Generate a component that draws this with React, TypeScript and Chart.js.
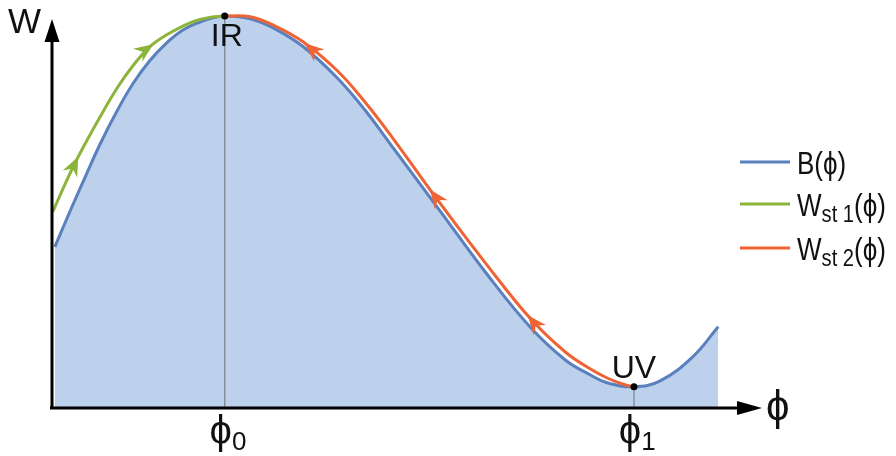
import { useEffect, useRef } from 'react';
import { Chart, registerables } from 'chart.js';

Chart.register(...registerables);

// Potential B(φ)
const phiB = [0.04, 0.25, 0.47, 0.68, 0.92, 1.14, 1.38, 1.62, 1.85, 2.09, 2.26, 2.44, 2.8, 3.15, 3.55, 4.03, 4.42, 4.82, 5.48, 6.12, 6.75, 7.25, 7.6, 7.84, 8.22, 8.59, 9.05, 9.41];
const wB = [4.03, 4.9, 5.78, 6.6, 7.43, 8.1, 8.68, 9.13, 9.45, 9.65, 9.75, 9.8, 9.73, 9.48, 9.03, 8.25, 7.45, 6.5, 4.93, 3.4, 2.03, 1.2, 0.83, 0.63, 0.53, 0.68, 1.28, 2.03];

// Flow W_st1(φ): runs up towards IR
const phiSt1 = [0.01, 0.18, 0.37, 0.68, 0.92, 1.14, 1.38, 1.62, 1.95, 2.19, 2.44];
const wSt1 = [4.9, 5.58, 6.28, 7.28, 8.0, 8.55, 9.03, 9.33, 9.63, 9.75, 9.8];

// Flow W_st2(φ): runs from UV back to IR
const phiSt2 = [2.44, 2.8, 3.15, 3.55, 4.03, 4.42, 4.82, 5.48, 6.12, 6.75, 7.25, 7.6, 7.84, 8.09, 8.22];
const wSt2 = [9.8, 9.78, 9.55, 9.15, 8.43, 7.65, 6.73, 5.12, 3.63, 2.25, 1.4, 0.98, 0.75, 0.58, 0.53];

// Fixed points
const fixedNames = ['IR', 'UV'];
const fixedSubs = ['0', '1'];
const fixedPhi = [2.44, 8.22];
const fixedW = [9.8, 0.53];

// Arrow tips along the flows (φ of the tip)
const arrowsSt1 = [0.37, 1.43];
const arrowsSt2 = [3.57, 5.34, 6.72];

const COLOR_B = '#5a80bd';
const COLOR_FILL = '#bdd0ec';
const COLOR_ST1 = '#8cb43b';
const COLOR_ST2 = '#ee6434';
const FONT = '"Liberation Sans", Arial, sans-serif';
const PHI = '\u03D5';

const pts = (xs: number[], ys: number[]) => xs.map((v, i) => ({ x: v, y: ys[i] }));

function drawArrowOnLine(ctx: CanvasRenderingContext2D, chart: Chart, dsIndex: number, phiTip: number, forward: boolean, color: string) {
  const meta = chart.getDatasetMeta(dsIndex);
  const els = meta.data as any[];
  const px = chart.scales.x.getPixelForValue(phiTip);
  let i = 0;
  while (i < els.length - 2 && els[i + 1].x < px) i++;
  const a = els[i], b = els[i + 1];
  const t = (px - a.x) / (b.x - a.x);
  const tx = a.x + (b.x - a.x) * t;
  const ty = a.y + (b.y - a.y) * t;
  let dx = b.x - a.x, dy = b.y - a.y;
  const len = Math.hypot(dx, dy);
  dx /= len; dy /= len;
  if (!forward) { dx = -dx; dy = -dy; }
  const nx = -dy, ny = dx;
  const L = 19, W = 8, notch = 6;
  ctx.save();
  ctx.fillStyle = color;
  ctx.beginPath();
  ctx.moveTo(tx, ty);
  ctx.lineTo(tx - L * dx + W * nx, ty - L * dy + W * ny);
  ctx.lineTo(tx - (L - notch) * dx, ty - (L - notch) * dy);
  ctx.lineTo(tx - L * dx - W * nx, ty - L * dy - W * ny);
  ctx.closePath();
  ctx.fill();
  ctx.restore();
}

function drawSubText(ctx: CanvasRenderingContext2D, x: number, baseline: number, main: string, mainSize: number, sub: string, subSize: number, subDrop: number, tail: string) {
  ctx.font = `${mainSize}px ${FONT}`;
  ctx.fillText(main, x, baseline);
  let cx = x + ctx.measureText(main).width;
  if (sub) {
    ctx.font = `${subSize}px ${FONT}`;
    ctx.fillText(sub, cx, baseline + subDrop);
    cx += ctx.measureText(sub).width;
  }
  if (tail) {
    ctx.font = `${mainSize}px ${FONT}`;
    ctx.fillText(tail, cx, baseline);
    cx += ctx.measureText(tail).width;
  }
  return cx - x;
}

const overlay = {
  id: 'phaseOverlay',
  afterDatasetsDraw(chart: Chart) {
    const ctx = chart.ctx;
    const xs = chart.scales.x, ys = chart.scales.y;
    const x0 = xs.getPixelForValue(0);
    const y0 = ys.getPixelForValue(0);

    ctx.save();
    // guide lines from the fixed points to the φ axis
    ctx.strokeStyle = '#7b8088';
    ctx.lineWidth = 1.2;
    fixedPhi.forEach((p, i) => {
      const px = xs.getPixelForValue(p);
      const py = ys.getPixelForValue(fixedW[i]);
      ctx.beginPath();
      ctx.moveTo(px, py);
      ctx.lineTo(px, y0);
      ctx.stroke();
    });

    // flow direction arrows
    arrowsSt1.forEach((p) => drawArrowOnLine(ctx, chart, 1, p, true, COLOR_ST1));
    arrowsSt2.forEach((p) => drawArrowOnLine(ctx, chart, 2, p, false, COLOR_ST2));

    // axes with arrow heads
    ctx.strokeStyle = '#000';
    ctx.fillStyle = '#000';
    ctx.lineWidth = 3;
    ctx.beginPath();
    ctx.moveTo(x0, y0 + 1.5);
    ctx.lineTo(x0, 40);
    ctx.moveTo(x0 - 2, y0);
    ctx.lineTo(740, y0);
    ctx.stroke();
    ctx.beginPath();
    ctx.moveTo(x0, 19);
    ctx.lineTo(x0 + 7.5, 42);
    ctx.lineTo(x0 - 7.5, 42);
    ctx.closePath();
    ctx.fill();
    ctx.beginPath();
    ctx.moveTo(762, y0);
    ctx.lineTo(737, y0 - 7);
    ctx.lineTo(737, y0 + 7);
    ctx.closePath();
    ctx.fill();

    // fixed point dots
    fixedPhi.forEach((p, i) => {
      ctx.beginPath();
      ctx.arc(xs.getPixelForValue(p), ys.getPixelForValue(fixedW[i]), 3.5, 0, Math.PI * 2);
      ctx.fill();
    });

    // labels
    ctx.fillStyle = '#111';
    ctx.textBaseline = 'alphabetic';
    ctx.textAlign = 'left';
    ctx.font = `35px ${FONT}`;
    ctx.fillText('W', 8, 33);
    ctx.font = `42px ${FONT}`;
    ctx.fillText(PHI, 766, 420);

    ctx.textAlign = 'center';
    ctx.font = `32px ${FONT}`;
    const irX = xs.getPixelForValue(fixedPhi[0]);
    const irY = ys.getPixelForValue(fixedW[0]);
    ctx.fillText(fixedNames[0], irX + 2, irY + 30);
    const uvX = xs.getPixelForValue(fixedPhi[1]);
    const uvY = ys.getPixelForValue(fixedW[1]);
    ctx.fillText(fixedNames[1], uvX, uvY - 9);

    // tick labels φ0, φ1
    ctx.textAlign = 'left';
    fixedPhi.forEach((p, i) => {
      const px = xs.getPixelForValue(p);
      ctx.font = `40px ${FONT}`;
      const w = ctx.measureText(PHI).width;
      drawSubText(ctx, px - w / 2 - 4, y0 + 36, PHI, 40, fixedSubs[i], 26, 6, '');
    });

    // legend
    const rows = [
      { color: COLOR_B, main: 'B', sub: '', tail: `(${PHI})` },
      { color: COLOR_ST1, main: 'W', sub: 'st 1', tail: `(${PHI})` },
      { color: COLOR_ST2, main: 'W', sub: 'st 2', tail: `(${PHI})` },
    ];
    const rowY = [162, 204, 248];
    rows.forEach((r, i) => {
      ctx.strokeStyle = r.color;
      ctx.lineWidth = 3;
      ctx.beginPath();
      ctx.moveTo(740, rowY[i]);
      ctx.lineTo(790, rowY[i]);
      ctx.stroke();
      ctx.save();
      ctx.translate(797, rowY[i] + 12);
      ctx.scale(0.84, 1);
      ctx.fillStyle = '#111';
      drawSubText(ctx, 0, 0, r.main, 31, r.sub, 24, 6, r.tail);
      ctx.restore();
    });
    ctx.restore();
  },
};

export default function App() {
  const ref = useRef<HTMLCanvasElement | null>(null);
  useEffect(() => {
    if (!ref.current) return;
    const common = { borderWidth: 3, pointRadius: 0, tension: 0.4 };
    const chart = new Chart(ref.current, {
      type: 'line',
      data: {
        datasets: [
          {
            ...common,
            label: `B(${PHI})`,
            data: pts(phiB, wB),
            borderColor: COLOR_B,
            backgroundColor: COLOR_FILL,
            fill: 'origin',
            order: 3,
          },
          {
            ...common,
            label: `Wst 1(${PHI})`,
            data: pts(phiSt1, wSt1),
            borderColor: COLOR_ST1,
            fill: false,
            order: 2,
          },
          {
            ...common,
            label: `Wst 2(${PHI})`,
            data: pts(phiSt2, wSt2),
            borderColor: COLOR_ST2,
            fill: false,
            order: 1,
          },
        ],
      },
      options: {
        animation: false,
        responsive: false,
        devicePixelRatio: 1,
        layout: { padding: { left: 52, right: 136, top: 8, bottom: 48 } },
        scales: {
          x: { type: 'linear', min: 0, max: 10, display: false },
          y: { type: 'linear', min: 0, max: 10, display: false },
        },
        plugins: {
          legend: { display: false },
          tooltip: { enabled: false },
        },
      },
      plugins: [overlay],
    });
    return () => chart.destroy();
  }, []);
  return (
    <div style={{ position: 'fixed', left: 0, top: 0, width: 896, height: 456, background: '#fff' }}>
      <canvas ref={ref} width={896} height={456} style={{ display: 'block' }} />
    </div>
  );
}
